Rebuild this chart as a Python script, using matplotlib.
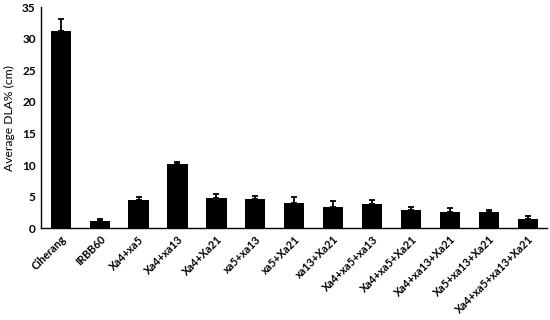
import numpy as np
import matplotlib.pyplot as plt

# Daten
linien = ['Ciherang', 'IRBB60', 'Xa4+xa5', 'Xa4+xa13', 'Xa4+Xa21', 'xa5+xa13',
          'xa5+Xa21', 'xa13+Xa21', 'Xa4+xa5+xa13', 'Xa4+xa5+Xa21',
          'Xa4+xa13+Xa21', 'Xa5+xa13+Xa21', 'Xa4+xa5+xa13+Xa21']
dla = [31.2, 1.1, 4.4, 10.2, 4.75, 4.65, 4.0, 3.3, 3.85, 2.95, 2.5, 2.6, 1.5]
fehler = [1.9, 0.4, 0.6, 0.3, 0.65, 0.5, 0.9, 1.0, 0.6, 0.45, 0.65, 0.3, 0.35]

plt.rcParams['font.family'] = ['Lato', 'DejaVu Sans']

fig = plt.figure(figsize=(5.5, 3.2), dpi=100)
ax = fig.add_axes([0.075, 0.287, 0.92, 0.69])

x = np.arange(len(linien))
ax.bar(x, dla, width=0.52, color='black',
       yerr=[np.zeros(len(fehler)), fehler], capsize=2.5,
       error_kw=dict(ecolor='black', elinewidth=1.3, capthick=1.3))

ax.set_xlim(-0.5, len(linien) - 0.5)
ax.set_ylim(0, 35)
ax.set_yticks(np.arange(0, 36, 5))
ax.set_xticks(x)
ax.set_xticklabels(linien, rotation=45, ha='right', rotation_mode='anchor',
                   fontsize=7.8, fontweight='bold')
for lab in ax.get_yticklabels():
    lab.set_fontweight('bold')
    lab.set_fontsize(8.5)
ax.tick_params(axis='both', length=0, pad=4)
ax.set_ylabel('Average DLA% (cm)', fontsize=8.7, labelpad=5)

ax.spines['top'].set_visible(False)
ax.spines['right'].set_visible(False)
ax.spines['left'].set_linewidth(1.0)
ax.spines['bottom'].set_linewidth(1.0)

fig.savefig('out.png', dpi=100)
